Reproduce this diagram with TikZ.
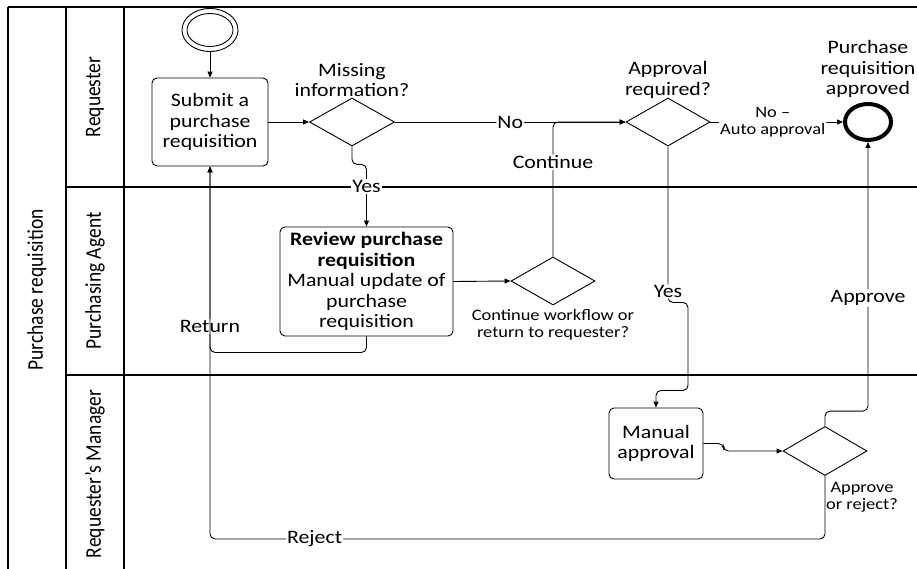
\documentclass[tikz,border=0pt]{standalone}
\usepackage{graphicx}
\usepackage{fontspec}
\setmainfont{Carlito}[FakeStretch=1.15]
\newfontfamily\rotfont{Carlito}
\usetikzlibrary{arrows.meta,shapes.geometric}
\begin{document}
\begin{tikzpicture}[x=1pt,y=-1pt,
  base/.style={font=\fontsize{19}{20.5}\selectfont},
  task/.style={base, draw, rounded corners=5pt, align=center, inner sep=0pt, line width=0.9pt},
  gate/.style={diamond, draw, inner sep=0pt, line width=0.9pt},
  lbl/.style={base, fill=white, inner sep=1pt},
  small/.style={font=\fontsize{16}{17}\selectfont, align=center, inner sep=1pt},
  title/.style={base, align=center, inner sep=0pt},
  flow/.style={line width=0.9pt, -{Triangle[length=6pt,width=5pt]}, rounded corners=5pt},
  lane/.style={line width=1.3pt},
  lanelbl/.style={rotate=90, inner sep=0pt, font=\rotfont\fontsize{19.5}{21}\selectfont}]
\useasboundingbox (0,0) rectangle (917,569);
% pool and lanes
\draw[lane] (8,7) -- (917,7);
\draw[lane] (8,7) -- (8,569);
\draw[lane] (66,7) -- (66,569);
\draw[lane] (124,7) -- (124,569);
\draw[lane] (66,187) -- (917,187);
\draw[lane] (66,375) -- (917,375);
\node[lanelbl] (pool) at (37,290) {\scalebox{1}[1.15]{Purchase requisition}};
\node[lanelbl] (l1) at (95,97) {\scalebox{1}[1.15]{Requester}};
\node[lanelbl] (l2) at (95,281) {\scalebox{1}[1.15]{Purchasing Agent}};
\node[lanelbl] (l3) at (95,474) {\scalebox{1}[1.15]{Requester’s Manager}};
% nodes
\node[ellipse, draw, line width=0.9pt, inner sep=0pt, minimum width=56pt, minimum height=43pt] (start) at (210,30) {};
\node[ellipse, draw, line width=0.9pt, inner sep=0pt, minimum width=46pt, minimum height=33pt] (starti) at (210,30) {};
\node[task, minimum width=116pt, minimum height=88pt] (submit) at (210,122) {Submit a\\purchase\\requisition};
\node[gate, minimum width=85pt, minimum height=48pt] (missing) at (352,122) {};
\node[title] (missingl) at (352,80) {Missing\\information?};
\node[gate, minimum width=84pt, minimum height=48pt] (approval) at (668,122) {};
\node[title] (approvall) at (668,80) {Approval\\required?};
\node[ellipse, draw, line width=4pt, inner sep=0pt, minimum width=46pt, minimum height=36pt] (end) at (868,122) {};
\node[title] (endl) at (868,69) {Purchase\\requisition\\approved};
\node[task, minimum width=173pt, minimum height=109pt] (review) at (366.5,281.5) {\textbf{Review purchase}\\\textbf{requisition}\\Manual update of\\purchase\\requisition};
\node[gate, minimum width=84pt, minimum height=48pt] (contdec) at (553,281) {};
\node[small] (contdecl) at (553,325) {Continue workflow or\\return to requester?};
\node[task, minimum width=94pt, minimum height=71pt] (manual) at (656,443.5) {Manual\\approval};
\node[gate, minimum width=84pt, minimum height=49pt] (apprej) at (825,451) {};
\node[small] (apprejl) at (862,497) {Approve\\or reject?};
% connectors
\draw[flow] (start) -- (submit);
\draw[flow] (submit.east) -- (missing.west);
\draw[flow] (missing.east) -- node[lbl,pos=0.5]{No} (approval.west);
\draw[flow] (contdec.north) |- node[lbl,pos=0.35]{Continue} (approval.west);
\draw[flow] (missing.south) -- ++(0,18) -| (review.north);
\path (review.north) ++(0,-40) node[lbl] (yes1) {Yes};
\draw[flow] (review.east) -- (contdec.west);
\draw[flow] (review.south) -- ++(0,16) -| node[lbl,pos=0.57]{Return} (submit.south);
\draw[flow] (apprej.south) -- ++(0,63) -| node[lbl,pos=0.415]{Reject} (submit.south);
\draw[flow] (approval.south) -- node[lbl,pos=0.93]{Yes} ++(0,156) -| ++(20,88) -| (manual.north);
\draw[flow] (manual.east) -- ++(20,0) |- (apprej.west);
\draw[flow] (apprej.north) -- ++(0,-15) -| node[lbl,pos=0.71]{Approve} (end.south);
\draw[flow] (approval.east) -- node[small,fill=white,pos=0.47]{No –\\Auto approval} (end.west);
\end{tikzpicture}
\end{document}
